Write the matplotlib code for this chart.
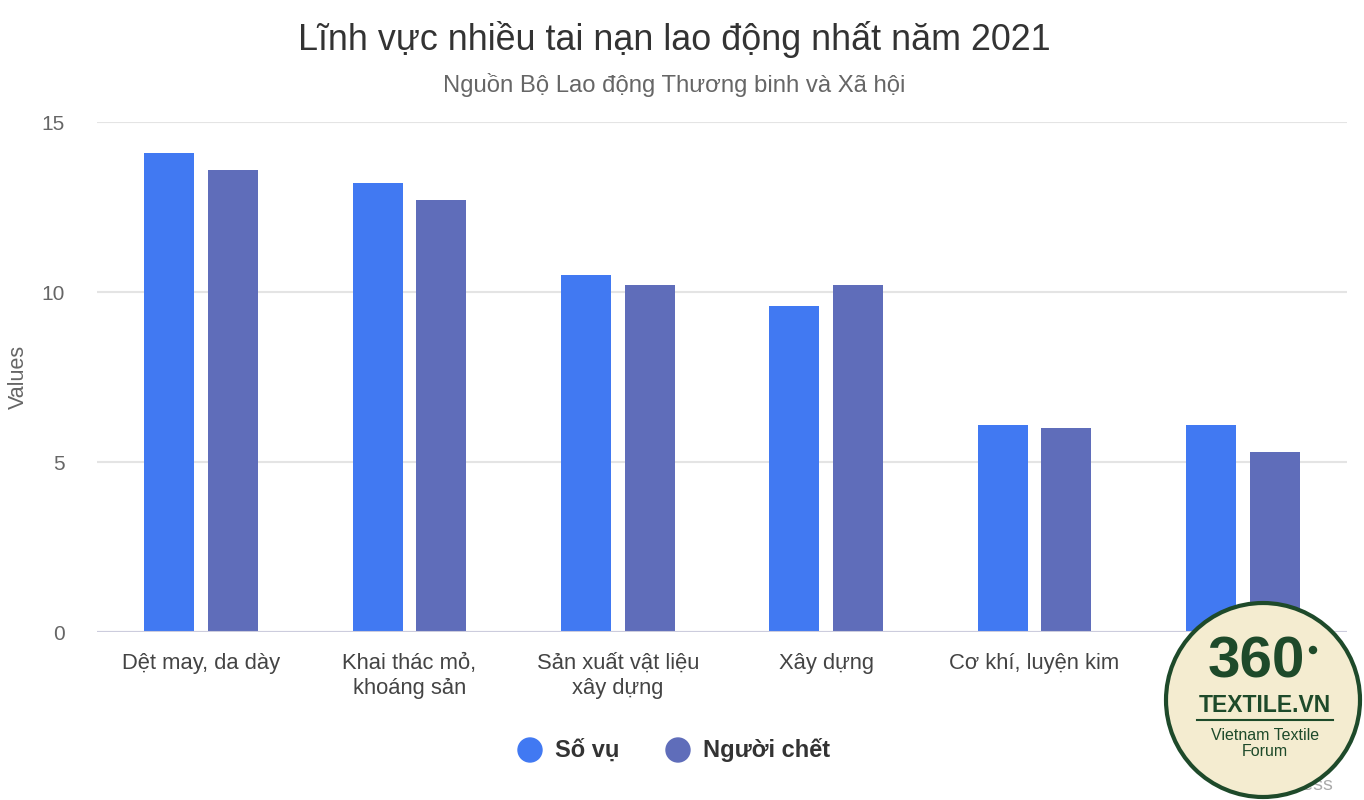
import matplotlib
matplotlib.use('Agg')
import matplotlib.pyplot as plt
from matplotlib.patches import Circle
import numpy as np

plt.rcParams['font.family'] = ['Liberation Sans', 'DejaVu Sans']

# dữ liệu
categories = ['Dệt may, da dày', 'Khai thác mỏ,\nkhoáng sản', 'Sản xuất vật liệu\nxây dựng',
              'Xây dựng', 'Cơ khí, luyện kim', 'Dịch vụ']
so_vu = [14.1, 13.2, 10.5, 9.6, 6.1, 6.1]
nguoi_chet = [13.6, 12.7, 10.2, 10.2, 6.0, 5.3]
series_names = ['Số vụ', 'Người chết']
colors = ['#4179f2', '#5f6dba']

fig = plt.figure(figsize=(13.64, 8), dpi=100)
ax = fig.add_axes([97/1364, 168/800, 1250/1364, 510/800])

x = np.arange(len(categories))
w = 0.24
ax.bar(x - 0.153, so_vu, w, color=colors[0], zorder=3)
ax.bar(x + 0.153, nguoi_chet, w, color=colors[1], zorder=3)

ax.set_xlim(-0.5, len(categories) - 0.5)
ax.set_ylim(0, 15)
ax.set_yticks([0, 5, 10, 15])
ax.grid(axis='y', color='#e4e4e4', linewidth=1.5, zorder=0)
ax.axhline(0, color='#ccccdd', linewidth=1.5, zorder=4)
for s in ax.spines.values():
    s.set_visible(False)
ax.tick_params(axis='y', length=0, pad=23, labelsize=15, labelcolor='#666666')
ax.tick_params(axis='x', length=0, pad=15, labelsize=15.8, labelcolor='#444444')
ax.set_xticks(x)
ax.set_xticklabels(categories, va='top', linespacing=1.25)
ax.set_ylabel('Values', fontsize=15.5, color='#666666', labelpad=9)

fig.text(0.494, 1 - 40/800, 'Lĩnh vực nhiều tai nạn lao động nhất năm 2021',
         ha='center', va='center', fontsize=25.8, color='#333333')
fig.text(0.494, 1 - 85/800, 'Nguồn Bộ Lao động Thương binh và Xã hội',
         ha='center', va='center', fontsize=17.2, color='#666666')

# lớp phủ theo pixel: chú thích + logo
lax = fig.add_axes([0, 0, 1, 1], facecolor='none')
lax.set_xlim(0, 1364)
lax.set_ylim(800, 0)
lax.axis('off')
for cx, name, c in [(530, series_names[0], colors[0]), (678, series_names[1], colors[1])]:
    lax.add_patch(Circle((cx, 750), 12, color=c))
    lax.text(cx + 25, 750, name, ha='left', va='center', fontsize=17,
             fontweight='bold', color='#333333')
lax.text(1333, 785, 'Express', ha='right', va='center', fontsize=14, color='#aaaaaa')

# logo
logo_green = '#1e4a2a'
lax.add_patch(Circle((1263, 700), 97, facecolor='#f4ecd0', edgecolor=logo_green,
                     linewidth=3, zorder=10))
lax.text(1256, 662, '360', ha='center', va='center', fontsize=42, fontweight='bold',
         color=logo_green, zorder=11)
lax.add_patch(Circle((1313, 650), 3.5, color=logo_green, zorder=11))
lax.text(1265, 705, 'TEXTILE.VN', ha='center', va='center', fontsize=16.5,
         fontweight='bold', color=logo_green, zorder=11)
lax.plot([1197, 1333], [720, 720], color=logo_green, linewidth=1.5, zorder=11)
lax.text(1265, 736, 'Vietnam Textile', ha='center', va='center', fontsize=11.5,
         color=logo_green, zorder=11)
lax.text(1265, 752, 'Forum', ha='center', va='center', fontsize=11.5,
         color=logo_green, zorder=11)

fig.savefig('out.png', dpi=100)
